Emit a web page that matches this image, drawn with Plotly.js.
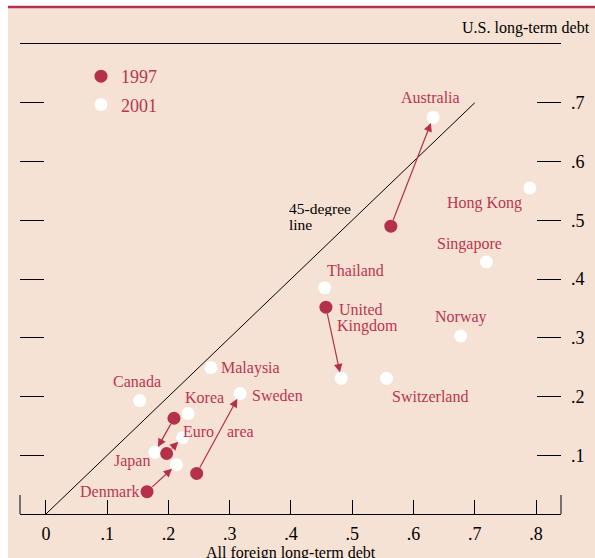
<!DOCTYPE html>
<html>
<head>
<meta charset="utf-8">
<script src="https://cdn.plot.ly/plotly-3.0.1.min.js"></script>
<style>html,body{margin:0;padding:0;background:#fff;}#chart{width:595px;height:558px;}</style>
</head>
<body>
<div id="chart"></div>
<script>
// ---- data ----
var countries1997 = ['Australia', 'United Kingdom', 'Japan', 'Euro area', 'Sweden', 'Denmark'];
var x1997 = [0.563, 0.457, 0.209, 0.197, 0.246, 0.165];
var y1997 = [0.490, 0.352, 0.163, 0.103, 0.069, 0.038];

var countries2001 = ['Australia', 'United Kingdom', 'Japan', 'Euro area', 'Sweden', 'Denmark',
  'Hong Kong', 'Singapore', 'Thailand', 'Norway', 'Switzerland', 'Malaysia', 'Canada', 'Korea'];
var x2001 = [0.632, 0.482, 0.178, 0.223, 0.317, 0.213, 0.790, 0.719, 0.455, 0.677, 0.556, 0.269, 0.153, 0.232];
var y2001 = [0.675, 0.231, 0.105, 0.130, 0.205, 0.084, 0.555, 0.429, 0.385, 0.303, 0.231, 0.249, 0.193, 0.171];

var lineX = [0, 0.7];
var lineY = [0, 0.7];

var xTickVals = [0, 0.1, 0.2, 0.3, 0.4, 0.5, 0.6, 0.7, 0.8];
var xTickText = ['0', '.1', '.2', '.3', '.4', '.5', '.6', '.7', '.8'];
var yTickVals = [0.1, 0.2, 0.3, 0.4, 0.5, 0.6, 0.7];
var yTickText = ['.1', '.2', '.3', '.4', '.5', '.6', '.7'];

// ---- label placement (styles, pixel offsets from the point) ----
// [country, text, which year point, xshift, yshift, xanchor]
var labelPlacement = [
  ['Australia', 'Australia', '2001', -3, 20, 'center'],
  ['Hong Kong', 'Hong Kong', '2001', -45, -15, 'center'],
  ['Singapore', 'Singapore', '2001', -17, 18, 'center'],
  ['Thailand', 'Thailand', '2001', 31, 17, 'center'],
  ['United Kingdom', 'United', '1997', 13, -2, 'left'],
  ['United Kingdom', 'Kingdom', '1997', 11, -19, 'left'],
  ['Norway', 'Norway', '2001', 0, 19, 'center'],
  ['Switzerland', 'Switzerland', '2001', 43, -18, 'center'],
  ['Malaysia', 'Malaysia', '2001', 10, 0, 'left'],
  ['Canada', 'Canada', '2001', -3, 19, 'center'],
  ['Korea', 'Korea', '2001', 16, 16, 'center'],
  ['Euro area', 'Euro', '2001', 0, 6, 'left'],
  ['Euro area', 'area', '2001', 44, 6, 'left'],
  ['Japan', 'Japan', '2001', -5, -9, 'right'],
  ['Denmark', 'Denmark', '1997', -7, 0, 'right'],
  ['Sweden', 'Sweden', '2001', 12, -2, 'left']
];

var RED = '#b5304b';
var LABEL_RED = '#bb3550';
var CREAM = '#f6e2d4';
var FONT = 'Liberation Serif, Times New Roman, serif';

var traces = [
  {x: lineX, y: lineY, mode: 'lines', line: {color: '#000', width: 1}, showlegend: false, hoverinfo: 'skip'},
  {x: x2001, y: y2001, text: countries2001, mode: 'markers', name: '2001',
   marker: {color: '#ffffff', size: 13, line: {width: 0}}, legendrank: 2, legendgroup: 'b'},
  {x: x1997, y: y1997, text: countries1997, mode: 'markers', name: '1997',
   marker: {color: RED, size: 13, line: {width: 0}}, legendrank: 1, legendgroup: 'a'},
  {x: [null], y: [null], yaxis: 'y2', mode: 'markers', showlegend: false, hoverinfo: 'skip'}
];

var annotations = [];
// arrows from 1997 to 2001
countries1997.forEach(function (c, i) {
  var j = countries2001.indexOf(c);
  annotations.push({
    x: x2001[j], y: y2001[j], ax: x1997[i], ay: y1997[i],
    xref: 'x', yref: 'y', axref: 'x', ayref: 'y',
    text: '', showarrow: true, arrowhead: 2, arrowsize: 1.4, arrowwidth: 1.2,
    arrowcolor: RED, standoff: 6, startstandoff: 5
  });
});
// country labels
labelPlacement.forEach(function (p) {
  var px, py;
  if (p[2] === '1997') { var i = countries1997.indexOf(p[0]); px = x1997[i]; py = y1997[i]; }
  else { var j = countries2001.indexOf(p[0]); px = x2001[j]; py = y2001[j]; }
  annotations.push({
    x: px, y: py, xref: 'x', yref: 'y', text: p[1], showarrow: false,
    xshift: p[3], yshift: p[4], xanchor: p[5], yanchor: 'middle',
    borderpad: 0, borderwidth: 0,
    font: {family: FONT, size: 16, color: LABEL_RED}
  });
});
// 45-degree line label
annotations.push({x: 0.3946, y: 0.520, xref: 'x', yref: 'y', text: '45-degree', showarrow: false,
  xanchor: 'left', yanchor: 'middle', borderpad: 0, height: 15, valign: 'middle',
  font: {family: FONT, size: 15.5, color: '#000'}});
annotations.push({x: 0.3946, y: 0.493, xref: 'x', yref: 'y', text: 'line', showarrow: false,
  xanchor: 'left', yanchor: 'middle', borderpad: 0, height: 15, valign: 'middle',
  font: {family: FONT, size: 15.5, color: '#000'}});
// y axis title at top right
annotations.push({x: 1.0555, y: 1.034, xref: 'paper', yref: 'paper', text: 'U.S. long-term debt',
  showarrow: false, xanchor: 'right', yanchor: 'middle', borderpad: 0,
  font: {family: FONT, size: 16, color: '#000'}});
// x axis title (partly cut by the bottom edge, as in the reference)
annotations.push({x: 0.5, y: (514 - 553) / 470, xref: 'paper', yref: 'paper', text: 'All foreign long-term debt',
  showarrow: false, xanchor: 'center', yanchor: 'middle', borderpad: 0,
  font: {family: FONT, size: 16, color: '#000'}});

var shapes = [
  // white strips top and left, red rule
  {type: 'rect', xref: 'paper', yref: 'paper', x0: -0.05, x1: (8 - 20) / 541, y0: -0.1, y1: 1.2,
   fillcolor: '#ffffff', line: {width: 0}, layer: 'below'},
  {type: 'rect', xref: 'paper', yref: 'paper', x0: -0.05, x1: 1.1, y0: (514 - 6) / 470, y1: 1.2,
   fillcolor: '#ffffff', line: {width: 0}, layer: 'below'},
  {type: 'line', xref: 'paper', yref: 'paper', x0: (8 - 20) / 541, x1: 1.1, y0: (514 - 7) / 470, y1: (514 - 7) / 470,
   line: {color: RED, width: 2.5}, layer: 'below'},
  // taller end ticks on the x axis
  {type: 'line', xref: 'paper', yref: 'paper', x0: 0, x1: 0, y0: 0, y1: 19 / 470, line: {color: '#000', width: 1}},
  {type: 'line', xref: 'paper', yref: 'paper', x0: 1, x1: 1, y0: 0, y1: 19 / 470, line: {color: '#000', width: 1}}
];

var layout = {
  width: 595, height: 558,
  margin: {l: 20, r: 34, t: 44, b: 44},
  paper_bgcolor: CREAM, plot_bgcolor: 'rgba(0,0,0,0)',
  font: {family: FONT, size: 16, color: '#000'},
  showlegend: true,
  legend: {x: (81 - 20) / 541, y: (514 - 58) / 470, xanchor: 'left', yanchor: 'top',
    bgcolor: 'rgba(0,0,0,0)', borderwidth: 0, tracegroupgap: 2,
    font: {family: FONT, size: 18, color: LABEL_RED}},
  xaxis: {
    range: [-0.0424, 0.8408], tickvals: xTickVals, ticktext: xTickText,
    ticks: 'inside', ticklen: 14, tickwidth: 1, tickcolor: '#000',
    showline: true, mirror: true, linecolor: '#000', linewidth: 1.2,
    showgrid: false, zeroline: false, ticklabelstandoff: 3,
    tickfont: {family: FONT, size: 18, color: '#000'}
  },
  yaxis: {
    range: [0, 0.8], tickvals: yTickVals, showticklabels: false,
    ticks: 'inside', ticklen: 24, tickwidth: 1, tickcolor: '#000',
    showline: false, showgrid: false, zeroline: false
  },
  yaxis2: {
    range: [0, 0.8], overlaying: 'y', side: 'right', tickvals: yTickVals, ticktext: yTickText,
    ticks: 'inside', ticklen: 24, tickwidth: 1, tickcolor: '#000',
    showline: false, showgrid: false, zeroline: false, ticklabelstandoff: 9,
    tickfont: {family: FONT, size: 18, color: '#000'}
  },
  annotations: annotations,
  shapes: shapes
};

Plotly.newPlot('chart', traces, layout, {displayModeBar: false, staticPlot: true});
</script>
</body>
</html>
